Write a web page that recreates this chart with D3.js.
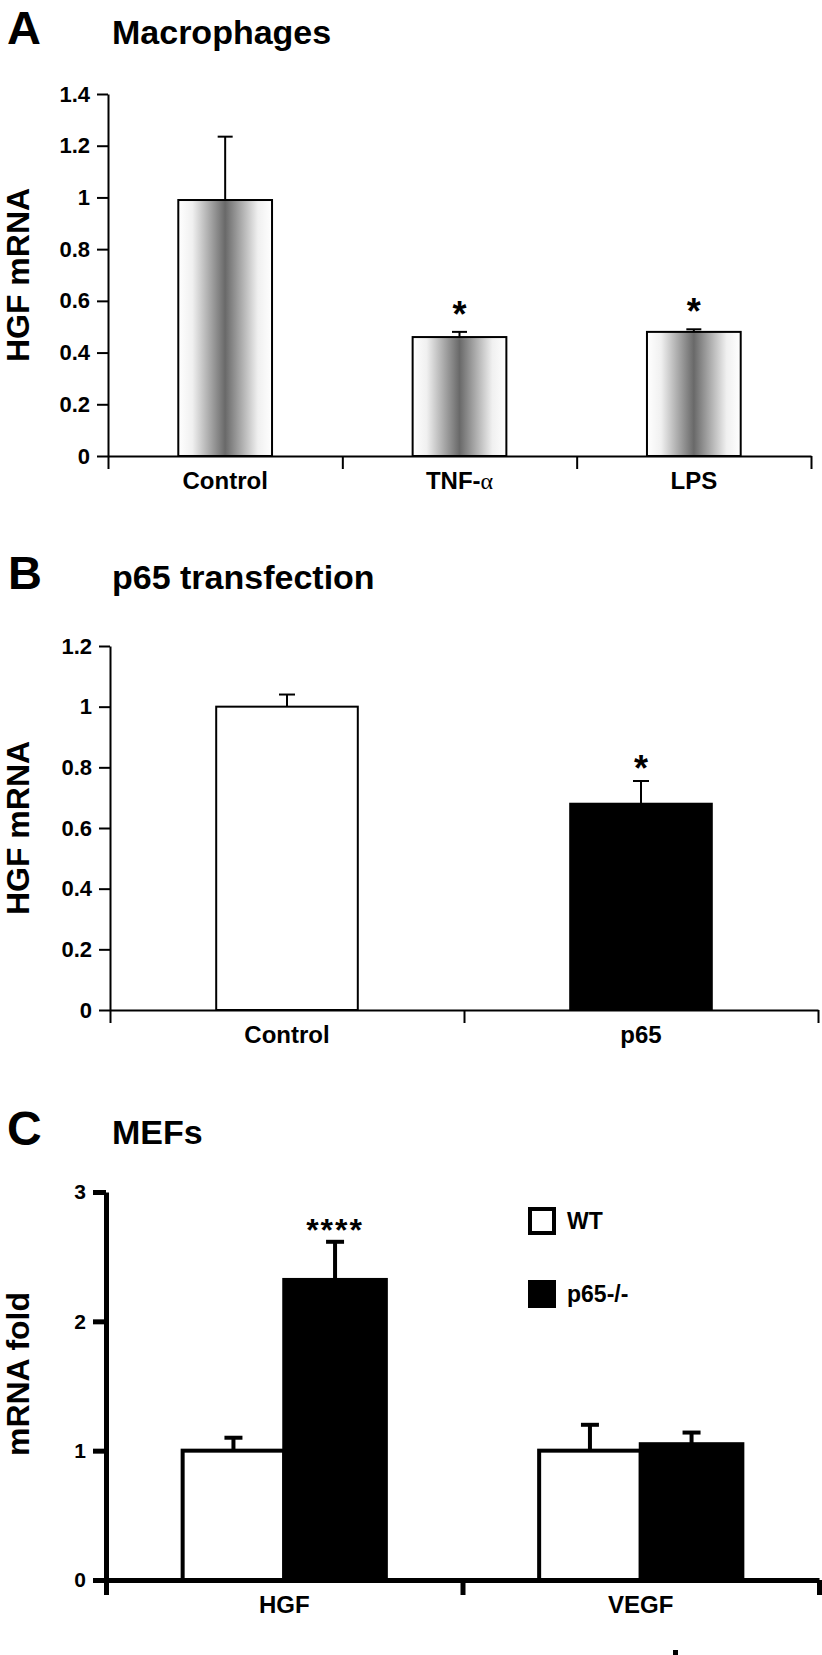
<!DOCTYPE html>
<html lang="en">
<head>
<meta charset="UTF-8">
<title>HGF mRNA</title>
<style>
  body { margin: 0; background: #fff; }
  svg text { font-family: "Liberation Sans", Arial, sans-serif; font-weight: bold; fill: #000; }
</style>
<script src="https://d3js.org/d3.v7.min.js"></script>
</head>
<body>
<script>
// ---- data ----
// A: macrophages
const catsA = ["Control", "TNF-α", "LPS"];
const valsA = [0.99, 0.46, 0.48];
const errA = [0.245, 0.02, 0.01];
const sigA = ["", "*", "*"];
const ticksA = [0, 0.2, 0.4, 0.6, 0.8, 1, 1.2, 1.4];

// B: p65 transfection
const catsB = ["Control", "p65"];
const valsB = [1.0, 0.68];
const errB = [0.04, 0.075];
const sigB = ["", "*"];
const ticksB = [0, 0.2, 0.4, 0.6, 0.8, 1, 1.2];

// C: MEFs
const genesC = ["HGF", "VEGF"];
const seriesC = ["WT", "p65-/-"];
const wtC = [1.0, 1.0];
const wtErrC = [0.1, 0.2];
const koC = [2.32, 1.05];
const koErrC = [0.295, 0.09];
const sigC = ["****", ""];
const ticksC = [0, 1, 2, 3];

// ---- drawing ----
const W = 822, H = 1655;
const svg = d3.select("body").append("svg").attr("width", W).attr("height", H);
svg.append("rect").attr("width", W).attr("height", H).attr("fill", "#fff");

// shaded fill of the panel A bars
const grad = svg.append("defs").append("linearGradient")
  .attr("id", "barGrad").attr("x1", "0%").attr("x2", "100%").attr("y1", "0%").attr("y2", "0%");
[[0, "#ffffff"], [0.15, "#f0f0f0"], [0.5, "#696969"], [0.85, "#f0f0f0"], [1, "#ffffff"]]
  .forEach(s => grad.append("stop").attr("offset", s[0]).attr("stop-color", s[1]));

function label(txt, x, y, size) {
  return svg.append("text").attr("x", x).attr("y", y).style("font-size", size + "px").text(txt);
}

// panel letters and titles
label("A", 7, 44, 47);
label("Macrophages", 112, 44, 34);
label("B", 8, 589, 47);
label("p65 transfection", 112, 589, 34);
label("C", 7, 1145, 48);
label("MEFs", 112, 1144, 34);

// axes shared by the three panels
function drawAxes(g, y, xi, xb, o) {
  const ya = g.append("g").attr("transform", `translate(${o.xLeft},0)`)
    .call(d3.axisLeft(y).tickValues(o.ticks).tickFormat(d3.format("~g"))
      .tickSize(o.tick).tickSizeOuter(0).tickPadding(7));
  ya.selectAll("path, line").attr("stroke", "#000").attr("stroke-width", o.aw);
  ya.selectAll("text").style("font-size", "22px");

  const xa = g.append("g").attr("transform", `translate(0,${o.yBottom})`)
    .call(d3.axisBottom(xi).tickValues(d3.range(o.n + 1)).tickFormat("").tickSize(o.xtick).tickSizeOuter(0));
  xa.selectAll("path, line").attr("stroke", "#000").attr("stroke-width", o.aw);

  const xl = g.append("g").attr("transform", `translate(0,${o.yBottom})`)
    .call(d3.axisBottom(xb).tickSize(0));
  xl.select(".domain").remove();
  xl.selectAll("text").attr("dy", null).attr("y", 33).style("font-size", "24px");

  // y title
  g.append("text")
    .attr("transform", `translate(${o.titleX},${o.titleY}) rotate(-90)`)
    .attr("text-anchor", "middle").attr("dy", "0.35em")
    .style("font-size", o.titleSize + "px").text(o.title);
}

function errorBars(g, cx, yTop, yVal, cap, sw) {
  g.append("line").attr("x1", cx).attr("x2", cx).attr("y1", yVal).attr("y2", yTop)
    .attr("stroke", "#000").attr("stroke-width", sw);
  g.append("line").attr("x1", cx - cap / 2).attr("x2", cx + cap / 2).attr("y1", yTop).attr("y2", yTop)
    .attr("stroke", "#000").attr("stroke-width", sw);
}

function simplePanel(o) {
  const g = svg.append("g");
  const y = d3.scaleLinear().domain([0, o.yMax]).range([o.yBottom, o.yTop]);
  const x = d3.scaleBand().domain(o.cats).range([o.xLeft, o.xRight]).paddingInner(0.6).paddingOuter(0.3);
  const xi = d3.scaleLinear().domain([0, o.cats.length]).range([o.xLeft, o.xRight]);

  o.cats.forEach((c, i) => {
    const cx = x(c) + x.bandwidth() / 2;
    errorBars(g, cx, y(o.vals[i] + o.errs[i]), y(o.vals[i]), o.cap, 2);
  });

  g.selectAll(".bar").data(o.cats).join("rect")
    .attr("x", d => x(d)).attr("width", x.bandwidth())
    .attr("y", (d, i) => y(o.vals[i])).attr("height", (d, i) => y(0) - y(o.vals[i]))
    .attr("fill", (d, i) => o.fills[i]).attr("stroke", "#000").attr("stroke-width", 2);

  g.selectAll(".sig").data(o.cats).join("text")
    .attr("x", d => x(d) + x.bandwidth() / 2)
    .attr("y", (d, i) => y(o.vals[i] + o.errs[i]) - o.sigGap + 19)
    .attr("text-anchor", "middle").style("font-size", "36px")
    .text((d, i) => o.sig[i]);

  drawAxes(g, y, xi, x, Object.assign({
    n: o.cats.length, tick: 11, xtick: 13, aw: 2, titleY: (o.yTop + o.yBottom) / 2
  }, o));
  return g;
}

const gA = simplePanel({
  cats: catsA, vals: valsA, errs: errA, sig: sigA, ticks: ticksA, yMax: 1.4,
  xLeft: 108, xRight: 811, yTop: 94, yBottom: 456, cap: 15, sigGap: 24,
  fills: catsA.map(() => "url(#barGrad)"),
  title: "HGF mRNA", titleX: 18, titleSize: 32
});
// Greek letter in the symbol face of the original
gA.selectAll(".tick text").filter(d => d === "TNF-α")
  .text("TNF-").append("tspan").style("font-weight", "normal")
  .style("font-family", "'Liberation Serif', serif").text("α");

simplePanel({
  cats: catsB, vals: valsB, errs: errB, sig: sigB, ticks: ticksB, yMax: 1.2,
  xLeft: 110, xRight: 818, yTop: 646, yBottom: 1010, cap: 16, sigGap: 19,
  fills: ["#fff", "#000"],
  title: "HGF mRNA", titleX: 18, titleSize: 32
});

// panel C: grouped bars
(function () {
  const o = { xLeft: 106, xRight: 819, yTop: 1192, yBottom: 1580 };
  const g = svg.append("g");
  const y = d3.scaleLinear().domain([0, 3]).range([o.yBottom, o.yTop]);
  const x0 = d3.scaleBand().domain(genesC).range([o.xLeft, o.xRight]).paddingInner(0.43).paddingOuter(0.215);
  const x1 = d3.scaleBand().domain(seriesC).range([0, x0.bandwidth()]);
  const xi = d3.scaleLinear().domain([0, genesC.length]).range([o.xLeft, o.xRight]);
  const color = d3.scaleOrdinal().domain(seriesC).range(["#fff", "#000"]);

  const rows = [];
  genesC.forEach((gname, i) => {
    rows.push({ gene: gname, s: seriesC[0], v: wtC[i], e: wtErrC[i] });
    rows.push({ gene: gname, s: seriesC[1], v: koC[i], e: koErrC[i] });
  });

  rows.forEach(r => {
    const cx = x0(r.gene) + x1(r.s) + x1.bandwidth() / 2;
    errorBars(g, cx, y(r.v + r.e), y(r.v), 18, 4);
  });

  g.selectAll(".bar").data(rows).join("rect")
    .attr("x", d => x0(d.gene) + x1(d.s)).attr("width", x1.bandwidth())
    .attr("y", d => y(d.v)).attr("height", d => y(0) - y(d.v))
    .attr("fill", d => color(d.s)).attr("stroke", "#000").attr("stroke-width", 4);

  genesC.forEach((gname, i) => {
    if (!sigC[i]) return;
    g.append("text")
      .attr("x", x0(gname) + x1(seriesC[1]) + x1.bandwidth() / 2)
      .attr("y", y(koC[i] + koErrC[i]) - 18 + 17)
      .attr("text-anchor", "middle").style("font-size", "32px").style("letter-spacing", "2px")
      .text(sigC[i]);
  });

  drawAxes(g, y, xi, x0, Object.assign({
    n: genesC.length, ticks: ticksC, tick: 13, xtick: 15, aw: 5,
    title: "mRNA fold", titleX: 18, titleY: 1374, titleSize: 32
  }, o));
  g.selectAll(".tick text").filter(d => typeof d === "number").style("font-size", "21px");

  // legend
  const lg = g.selectAll(".legend").data(seriesC).join("g")
    .attr("transform", (d, i) => `translate(528,${1207 + i * 73})`);
  lg.append("rect").attr("x", 2).attr("y", 2).attr("width", 24).attr("height", 24)
    .attr("fill", d => color(d)).attr("stroke", "#000").attr("stroke-width", 4);
  lg.append("text").attr("x", 39).attr("y", 22).style("font-size", "23px").text(d => d);
})();

// small fragment at the bottom edge of the original figure
svg.append("line").attr("x1", 675.5).attr("x2", 675.5).attr("y1", 1650).attr("y2", 1655)
  .attr("stroke", "#000").attr("stroke-width", 5);
</script>
</body>
</html>
